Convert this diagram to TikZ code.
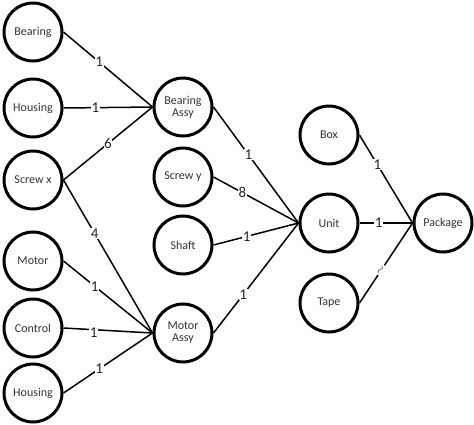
\documentclass[tikz,border=0pt]{standalone}
\usepackage{fontspec}
\setmainfont{Carlito}
\begin{document}
\begin{tikzpicture}[x=1pt,y=-1pt,
  part/.style={circle,draw=black,line width=3pt,minimum size=58pt,inner sep=0pt,align=center,font=\fontsize{12}{13}\selectfont,text=black!80},
  conn/.style={line width=1.5pt},
  qty/.style={fill=white,inner sep=0.6pt,font=\fontsize{15}{15}\selectfont,text=black!85}]
\useasboundingbox (0,0) rectangle (474,424);
\node[part] (bearing) at (33,32) {Bearing};
\node[part] (housing) at (33,108) {Housing};
\node[part] (screwx) at (33,180) {Screw x};
\node[part] (motor) at (33,261) {Motor};
\node[part] (control) at (33,328) {Control};
\node[part] (housing2) at (33,393) {Housing};
\node[part] (bassy) at (183,107) {Bearing\\[-1pt]Assy};
\node[part] (screwy) at (183,177) {Screw y};
\node[part] (shaft) at (183,245) {Shaft};
\node[part] (massy) at (183,333) {Motor\\[-1pt]Assy};
\node[part] (box) at (329,135) {Box};
\node[part] (unit) at (329,223) {Unit};
\node[part] (tape) at (329,303) {Tape};
\node[part] (package) at (443,223) {Package};

\draw[conn] (bearing.east) -- node[qty,pos=0.4] {1} (bassy.west);
\draw[conn] (housing.east) -- node[qty,pos=0.36] {1} (bassy.west);
\draw[conn] (screwx.east) -- node[qty,pos=0.5] {6} (bassy.west);
\draw[conn] (screwx.east) -- node[qty,pos=0.35] {4} (massy.west);
\draw[conn] (motor.east) -- node[qty,pos=0.35] {1} (massy.west);
\draw[conn] (control.east) -- node[qty,pos=0.34,yshift=-3pt] {1} (massy.west);
\draw[conn] (housing2.east) -- node[qty,pos=0.4] {1} (massy.west);
\draw[conn] (bassy.east) -- node[qty,pos=0.41] {1} (unit.west);
\draw[conn] (screwy.east) -- node[qty,pos=0.34] {8} (unit.west);
\draw[conn] (shaft.east) -- node[qty,pos=0.39] {1} (unit.west);
\draw[conn] (massy.east) -- node[qty,pos=0.35] {1} (unit.west);
\draw[conn] (box.east) -- node[qty,pos=0.34] {1} (package.west);
\draw[conn] (unit.east) -- node[qty,pos=0.36] {1} (package.west);
\draw[conn] (tape.east) -- node[qty,pos=0.41,sloped,inner sep=1pt,font=\fontsize{12}{12}\selectfont] {$\sim$} (package.west);
\end{tikzpicture}
\end{document}
